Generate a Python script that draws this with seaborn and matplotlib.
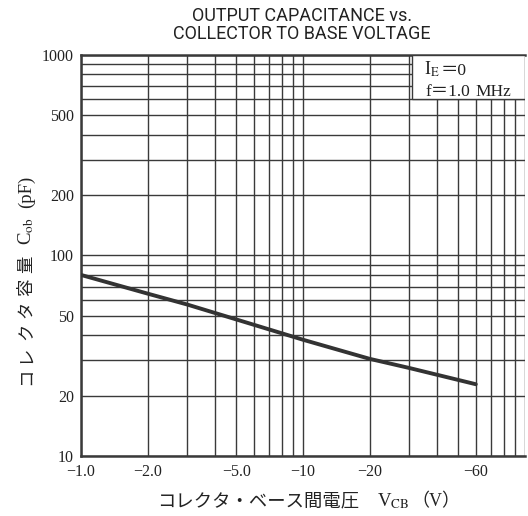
import matplotlib
matplotlib.use("Agg")
import matplotlib.pyplot as plt
import numpy as np
import pandas as pd
import seaborn as sns
from matplotlib.patches import Rectangle
from matplotlib.ticker import FixedLocator, NullFormatter
from matplotlib.transforms import IdentityTransform

# curve (|V_CB| in volts, C_ob in pF)
vcb = [1.0, 2.0, 3.0, 5.0, 10.0, 20.0, 30.0, 60.0]
cob = [80.0, 64.5, 57.0, 48.0, 38.0, 30.5, 27.5, 22.8]

x_labelled = [1, 2, 5, 10, 20, 60]
x_ticklabels = ["−1.0", "−2.0", "−5.0", "−10", "−20", "−60"]
x_grid = [1, 2, 3, 4, 5, 6, 7, 8, 9, 10, 20, 30, 40, 50, 60, 70, 80, 90, 100]

y_labelled = [10, 20, 50, 100, 200, 500, 1000]
y_grid = [10, 20, 30, 40, 50, 60, 70, 80, 90,
          100, 200, 300, 400, 500, 600, 700, 800, 900, 1000]

title_lines = ["OUTPUT CAPACITANCE vs.", "COLLECTOR TO BASE VOLTAGE"]

SERIF = ["Liberation Serif", "Noto Sans CJK JP"]
INK = "#3a3a3a"
TXT = "#222222"


def chain(fig, pieces, x, y, vertical=False):
    """Lay text pieces one after another from a pixel anchor (baseline)."""
    renderer = fig.canvas.get_renderer()
    pos = y if vertical else x
    for text, size, gap in pieces:
        px, py = (x, pos) if vertical else (pos, y)
        t = fig.text(px, py, text, transform=IdentityTransform(),
                     fontsize=size, color=TXT, ha="left", va="baseline",
                     rotation=90 if vertical else 0, rotation_mode="anchor")
        bb = t.get_window_extent(renderer)
        pos += (bb.height if vertical else bb.width) + gap


def main() -> None:
    sns.set_theme(style="white")
    plt.rcParams["mathtext.fontset"] = "stix"
    plt.rcParams["font.family"] = SERIF

    df = pd.DataFrame({"vcb": vcb, "cob": cob})

    fig = plt.figure(figsize=(5.28, 5.16), dpi=100)
    ax = fig.add_axes([0.1534, 0.1163, 0.8410, 0.7771])

    ax.set_xscale("log")
    ax.set_yscale("log")
    ax.set_xlim(1, 100)
    ax.set_ylim(10, 1000)

    # grid: every 1-2-...-9 step in both directions
    ax.xaxis.set_major_locator(FixedLocator(x_labelled))
    ax.xaxis.set_minor_locator(FixedLocator([v for v in x_grid if v not in x_labelled]))
    ax.yaxis.set_major_locator(FixedLocator(y_labelled))
    ax.yaxis.set_minor_locator(FixedLocator([v for v in y_grid if v not in y_labelled]))
    ax.set_xticklabels(x_ticklabels)
    ax.set_yticklabels([str(v) for v in y_labelled])
    ax.xaxis.set_minor_formatter(NullFormatter())
    ax.yaxis.set_minor_formatter(NullFormatter())
    ax.grid(True, which="both", color=INK, linewidth=1.0)
    ax.tick_params(which="both", length=0, labelsize=11.5, colors=TXT)
    ax.tick_params(axis="x", pad=6)
    ax.tick_params(axis="y", pad=5)

    sns.lineplot(data=df, x="vcb", y="cob", ax=ax, color="#333333",
                 linewidth=2.8, zorder=5)

    for side in ["left", "bottom", "top"]:
        ax.spines[side].set_color(INK)
        ax.spines[side].set_linewidth(1.8)
    ax.spines["right"].set_visible(False)
    ax.set_xlabel("")
    ax.set_ylabel("")

    # condition box in the upper right corner
    ax.add_patch(Rectangle((31, 600), 69, 400, facecolor="white",
                           edgecolor=INK, linewidth=1.0, zorder=3))
    fig.canvas.draw()
    chain(fig, [("I$_{\\mathrm{E}}$", 13, 1), ("＝0", 12.5, 0)], 424, 441)
    chain(fig, [("f＝1.0", 12.5, 6), ("MHz", 12.5, 0)], 425, 420)

    # axis titles (Japanese + subscripted symbols)
    chain(fig, [("コレクタ・ベース間電圧", 13.2, 18),
                ("V$_{\\mathrm{CB}}$", 13.5, 2),
                ("（V）", 13, 0)], 157, 10)
    ylab = [(ch, 12.5, 5) for ch in "コレクタ容量"]
    ylab[-1] = ("量", 12.5, 11)
    ylab += [("C$_{\\mathrm{ob}}$", 13.5, 9), ("(pF)", 13.5, 0)]
    chain(fig, ylab, 31, 131, vertical=True)

    for line, base in zip(title_lines, [495, 477]):
        fig.text(302, base, line, transform=IdentityTransform(),
                 ha="center", va="baseline", fontsize=13,
                 family=["Roboto", "DejaVu Sans"], color=TXT)

    fig.savefig("out.png", dpi=100)
    plt.close(fig)


if __name__ == "__main__":
    main()
